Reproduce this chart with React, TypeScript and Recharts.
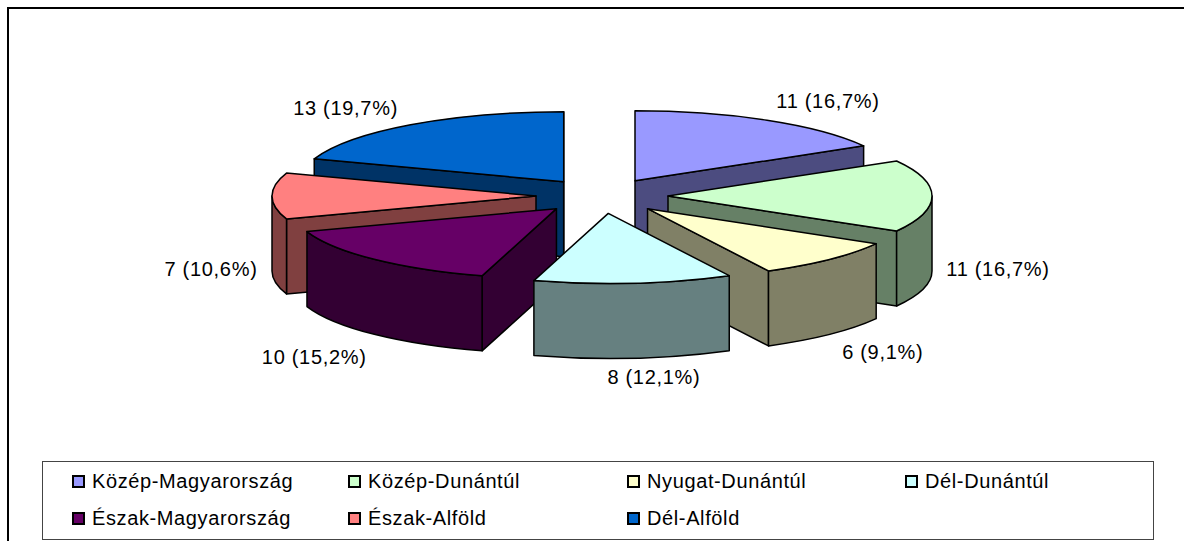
import React from "react";
import { PieChart, Pie, Legend } from "recharts";

const REGIONS = ["Közép-Magyarország", "Közép-Dunántúl", "Nyugat-Dunántúl", "Dél-Dunántúl", "Észak-Magyarország", "Észak-Alföld", "Dél-Alföld"];
const COUNTS = [11, 11, 6, 8, 10, 7, 13];
const TOP_COLORS = ["#9999FF", "#CCFFCC", "#FFFFCC", "#CCFFFF", "#660066", "#FF8080", "#0066CC"];
const SIDE_COLORS = ["#4C4C80", "#668066", "#808066", "#668080", "#330033", "#804040", "#003366"];
const PAINT_ORDER = [0, 6, 5, 1, 2, 4, 3];
const LABEL_NUDGE = [[-5, -3], [0, -2], [-13, 4], [8, 0], [6, 9], [5, -2], [1, -1]];

const RX = 264;
const RY = 70;
const DEPTH = 75;
const EXPLODE = 66;
const SQUASH = RY / RX;
const CX = 602;
const CY = 196;
const FONT = "Liberation Sans, Arial, sans-serif";

const data = REGIONS.map((name, i) => ({ name, value: COUNTS[i], fill: TOP_COLORS[i] }));

const rad = (d: number) => (d * Math.PI) / 180;

function geometry(p: any) {
  const s = 90 - p.startAngle;
  const e = 90 - p.endAngle;
  const m = (s + e) / 2;
  const ax = p.cx + EXPLODE * Math.sin(rad(m));
  const ay = p.cy - EXPLODE * SQUASH * Math.cos(rad(m));
  const pt = (t: number) => [ax + p.outerRadius * Math.sin(rad(t)), ay - p.outerRadius * SQUASH * Math.cos(rad(t))];
  return { s, e, m, ax, ay, pt };
}

function Slice3D(props: any, paintIndex: number) {
  const idx = REGIONS.indexOf(props.name);
  if (idx !== paintIndex) return <g />;
  const { s, e, ax, ay, pt } = geometry(props);
  const rx = props.outerRadius;
  const ry = rx * SQUASH;
  const side = SIDE_COLORS[idx];
  const [sx, sy] = pt(s);
  const [ex, ey] = pt(e);
  const stroke = { stroke: "#000", strokeWidth: 1.5, strokeLinejoin: "round" as const };
  const faces: React.ReactNode[] = [];
  if (Math.sin(rad(s)) < -1e-6)
    faces.push(<path key="ws" d={`M${ax},${ay}L${sx},${sy}v${DEPTH}L${ax},${ay + DEPTH}Z`} fill={side} {...stroke} />);
  if (Math.sin(rad(e)) > 1e-6)
    faces.push(<path key="we" d={`M${ax},${ay}L${ex},${ey}v${DEPTH}L${ax},${ay + DEPTH}Z`} fill={side} {...stroke} />);
  const a = Math.max(s, 90);
  const b = Math.min(e, 270);
  if (b > a) {
    const [x1, y1] = pt(a);
    const [x2, y2] = pt(b);
    faces.push(
      <path key="wo" d={`M${x1},${y1}A${rx},${ry} 0 0 1 ${x2},${y2}v${DEPTH}A${rx},${ry} 0 0 0 ${x1},${y1 + DEPTH}Z`} fill={side} {...stroke} />
    );
  }
  return (
    <g>
      {faces}
      <path d={`M${ax},${ay}L${sx},${sy}A${rx},${ry} 0 0 1 ${ex},${ey}Z`} fill={props.fill} {...stroke} />
    </g>
  );
}

function renderLabel(props: any) {
  const { m, pt } = geometry(props);
  const [rimX, rimY] = pt(m);
  const front = Math.cos(rad(m)) < 0.01;
  const k = Math.max(-1, Math.min(1, 2 * Math.sin(rad(m))));
  const [dx, dy] = LABEL_NUDGE[REGIONS.indexOf(props.name)];
  const x = rimX + 66 * k + dx;
  const y = rimY + (front ? DEPTH : 0) - 19 * Math.cos(rad(m)) + dy;
  const pct = (props.percent * 100).toFixed(1).replace(".", ",");
  return (
    <text key={props.name} x={x} y={y} textAnchor="middle" dominantBaseline="central" fontFamily={FONT} fontSize={20} letterSpacing={0.7} fill="#000">
      {`${props.value} (${pct}%)`}
    </text>
  );
}

const LEGEND_COLS = [72, 348, 627, 905];

function LegendBox() {
  return (
    <div style={{ position: "absolute", left: 42, top: 461, width: 1110, height: 77, border: "1px solid #444", background: "#fff", fontFamily: FONT, fontSize: 20, letterSpacing: 0.62, color: "#000" }}>
      {REGIONS.map((name, i) => (
        <div key={name} style={{ position: "absolute", left: LEGEND_COLS[i % 4] - 43, top: i < 4 ? 7 : 44, height: 24, display: "flex", alignItems: "center", whiteSpace: "nowrap" }}>
          <span style={{ width: 9, height: 9, border: "2px solid #000", background: TOP_COLORS[i], marginRight: 7, display: "inline-block" }} />
          {name}
        </div>
      ))}
    </div>
  );
}

export default function App() {
  return (
    <div style={{ position: "absolute", left: 0, top: 0, width: 1184, height: 541, background: "#fff", overflow: "hidden" }}>
      <div style={{ position: "absolute", left: 7, top: 7, width: 1300, height: 700, border: "2px solid #000" }} />
      <PieChart width={1184} height={541} margin={{ top: 0, right: 0, bottom: 0, left: 0 }} style={{ position: "absolute", left: 0, top: 0 }}>
        {PAINT_ORDER.map((paintIndex, n) => (
          <Pie
            key={paintIndex}
            data={data}
            dataKey="value"
            nameKey="name"
            cx={CX}
            cy={CY}
            innerRadius={0}
            outerRadius={RX}
            startAngle={90}
            endAngle={-270}
            isAnimationActive={false}
            legendType="none"
            labelLine={false}
            label={n === PAINT_ORDER.length - 1 ? renderLabel : false}
            shape={(p: any) => Slice3D(p, paintIndex)}
          />
        ))}
        <Legend content={() => <LegendBox />} wrapperStyle={{ position: "absolute", left: 0, top: 0, width: 0, height: 0 }} />
      </PieChart>
    </div>
  );
}
